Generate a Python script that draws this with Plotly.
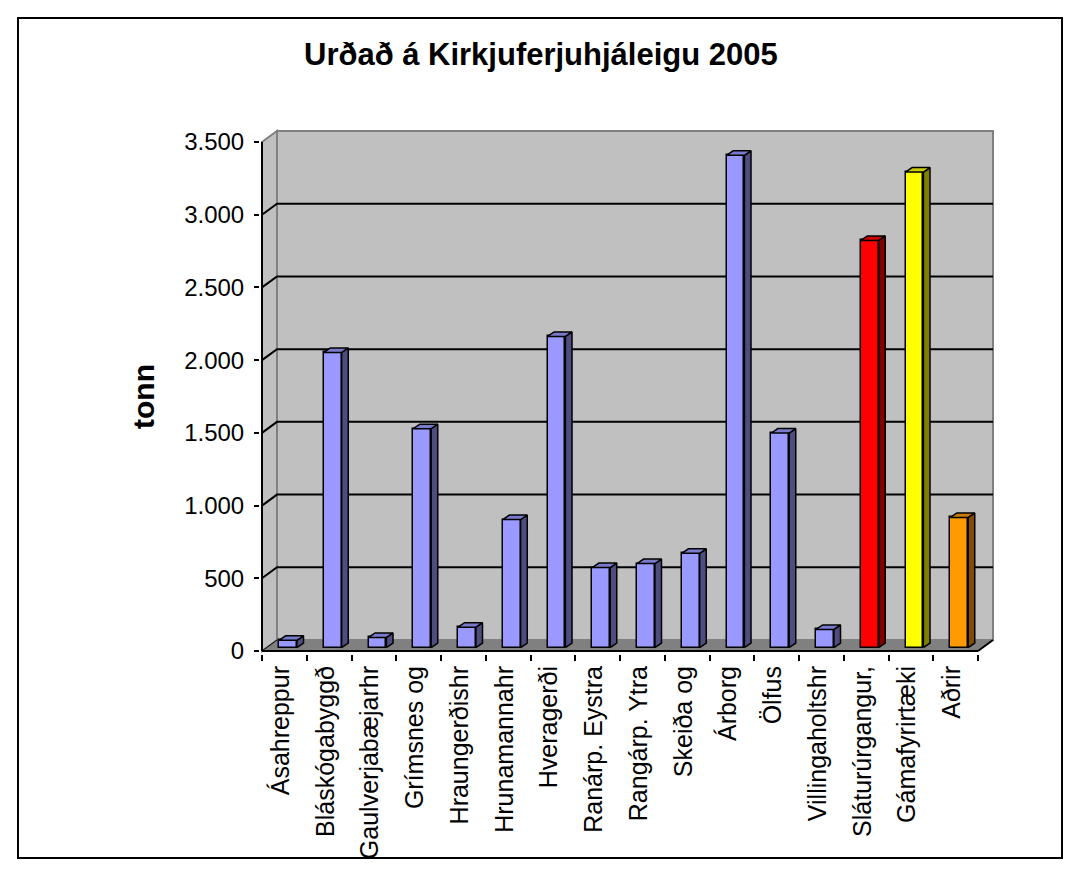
import plotly.graph_objects as go

# ---------------- data ----------------
categories = ["Ásahreppur", "Bláskógabyggð", "Gaulverjabæjarhr", "Grímsnes og",
              "Hraungerðishr", "Hrunamannahr", "Hveragerði", "Ranárp. Eystra",
              "Rangárp. Ytra", "Skeiða og", "Árborg", "Ölfus", "Villingaholtshr",
              "Sláturúrgangur,", "Gámafyrirtæki", "Aðrir"]
values = [50, 2030, 70, 1505, 140, 880, 2140, 550, 578, 648, 3385, 1475, 125,
          2800, 3270, 895]
y_ticks = [0, 500, 1000, 1500, 2000, 2500, 3000, 3500]
title_text = "Urðað á Kirkjuferjuhjáleigu 2005"
y_title = "tonn"

# colours (front, side, top) per bar group
BLUE = ("#9999FF", "#4D4D80", "#7A7ACC")
RED = ("#FF0000", "#800000", "#CC0000")
YEL = ("#FFFF00", "#808000", "#CCCC00")
ORA = ("#FF9900", "#804D00", "#CC7A00")
bar_colors = [BLUE] * 13 + [RED, YEL, ORA]

# ---------------- geometry (pixels) ----------------
W, H = 1080, 877
PL, PR, PT, PB = 260, 995, 129, 654          # plot area in px
X0PX, PXU = 262, 44.75                         # x=-0.5 at 262 px, px per category
Y0PX, PYU = 651, (651 - 142) / 3500.0          # y=0 at 651 px, px per unit

x_min = -0.5 - (X0PX - PL) / PXU
x_max = -0.5 + (PR - X0PX) / PXU
y_min = -(PB - Y0PX) / PYU
y_max = (Y0PX - PT) / PYU

DX = 15 / PXU        # wall depth offset (x units)
DY = 11 / PYU        # wall depth offset (y units)
n = len(categories)
x_front_end = n - 0.5

bar_shift = 0.08
bar_w = 0.40
bar_base = 3.4 / PYU
bdx = 6.6 / PXU
bdy = 4.5 / PYU
label_shift = -0.08

def px_to_paper_x(px):
    return (px - PL) / (PR - PL)

def px_to_paper_y(py):
    return (PB - py) / (PB - PT)

fig = go.Figure()

# front faces
xs = [i + bar_shift for i in range(n)]
fig.add_trace(go.Bar(
    x=xs, y=values, base=bar_base, width=bar_w,
    marker=dict(color=[c[0] for c in bar_colors],
                line=dict(color="black", width=1.5)),
    hoverinfo="skip", showlegend=False))

# side and top faces
for i, v in enumerate(values):
    xl = xs[i] - bar_w / 2
    xr = xs[i] + bar_w / 2
    top = bar_base + v
    fig.add_trace(go.Scatter(
        x=[xr, xr + bdx, xr + bdx, xr, xr],
        y=[bar_base, bar_base + bdy, top + bdy, top, bar_base],
        mode="lines", fill="toself", fillcolor=bar_colors[i][1],
        line=dict(color="black", width=1.5), hoverinfo="skip", showlegend=False))
    fig.add_trace(go.Scatter(
        x=[xl, xr, xr + bdx, xl + bdx, xl],
        y=[top, top, top + bdy, top + bdy, top],
        mode="lines", fill="toself", fillcolor=bar_colors[i][2],
        line=dict(color="black", width=1.5), hoverinfo="skip", showlegend=False))

shapes = []
xa = -0.5
ytop = y_ticks[-1]
# left wall
shapes.append(dict(type="path", xref="x", yref="y", layer="below",
                   path=f"M {xa},0 L {xa+DX},{DY} L {xa+DX},{ytop+DY} L {xa},{ytop} Z",
                   fillcolor="#C0C0C0", line=dict(color="#808080", width=2)))
# back wall
shapes.append(dict(type="rect", xref="x", yref="y", layer="below",
                   x0=xa + DX, x1=x_front_end + DX, y0=DY, y1=ytop + DY,
                   fillcolor="#C0C0C0", line=dict(color="#808080", width=2)))
# floor
shapes.append(dict(type="path", xref="x", yref="y", layer="below",
                   path=f"M {xa},0 L {x_front_end},0 L {x_front_end+DX},{DY} L {xa+DX},{DY} Z",
                   fillcolor="#808080", line=dict(color="#808080", width=1)))
# gridlines (diagonal on left wall + horizontal on back wall)
for t in y_ticks[1:-1]:
    shapes.append(dict(type="path", xref="x", yref="y", layer="below",
                       path=f"M {xa},{t} L {xa+DX},{t+DY} L {x_front_end+DX},{t+DY}",
                       line=dict(color="black", width=2)))
# axis lines
shapes.append(dict(type="line", xref="x", yref="y", x0=xa, x1=xa, y0=0, y1=ytop,
                   line=dict(color="black", width=2)))
shapes.append(dict(type="line", xref="x", yref="y", x0=xa, x1=x_front_end, y0=0, y1=0,
                   line=dict(color="black", width=2)))
shapes.append(dict(type="line", xref="x", yref="y", x0=x_front_end, x1=x_front_end + DX,
                   y0=0, y1=DY, line=dict(color="black", width=2)))
shapes.append(dict(type="line", xref="x", yref="y", x0=xa, x1=xa + DX,
                   y0=0, y1=DY, line=dict(color="black", width=1)))
# outer chart border
shapes.append(dict(type="rect", xref="paper", yref="paper",
                   x0=px_to_paper_x(18), x1=px_to_paper_x(1062),
                   y0=px_to_paper_y(858), y1=px_to_paper_y(18),
                   line=dict(color="black", width=2), fillcolor="rgba(0,0,0,0)"))

FONT = "Liberation Sans, Arial, sans-serif"

fig.update_layout(
    width=W, height=H, autosize=False,
    margin=dict(l=PL, r=W - PR, t=PT, b=H - PB, pad=0),
    paper_bgcolor="white", plot_bgcolor="white",
    separators=",.",
    shapes=shapes,
    bargap=0,
    font=dict(family=FONT, color="black"),
    xaxis=dict(range=[x_min, x_max], tickmode="array",
               tickvals=[i + label_shift for i in range(n)], ticktext=categories,
               tickangle=-90,
               ticks="", showgrid=False, zeroline=False, showline=False,
               tickfont=dict(family=FONT, size=25, color="black"),
               ticklabelstandoff=6,
               minor=dict(tickmode="array", tickvals=[i - 0.5 for i in range(n + 1)],
                          ticks="outside", ticklen=6, tickwidth=2, tickcolor="black",
                          showgrid=False)),
    yaxis=dict(range=[y_min, y_max], tickmode="array", tickvals=y_ticks,
               tickformat=",d", ticks="outside", ticklen=5, tickwidth=2,
               tickcolor="black", showgrid=False, zeroline=False, showline=False,
               tickfont=dict(family=FONT, size=24, color="black"),
               ticklabelstandoff=5),
    annotations=[
        dict(text=f"<b>{title_text}</b>", xref="paper", yref="paper",
             x=px_to_paper_x(541), y=px_to_paper_y(54), xanchor="center",
             yanchor="middle", showarrow=False,
             font=dict(family=FONT, size=31, color="black")),
        dict(text=f"<b>{y_title}</b>", xref="paper", yref="paper",
             x=px_to_paper_x(143), y=px_to_paper_y(397), xanchor="center",
             yanchor="middle", textangle=-90, showarrow=False,
             font=dict(family=FONT, size=30, color="black")),
    ],
)

fig.write_html("out.html", config={"displayModeBar": False},
               post_script="document.body.style.margin='0';")
